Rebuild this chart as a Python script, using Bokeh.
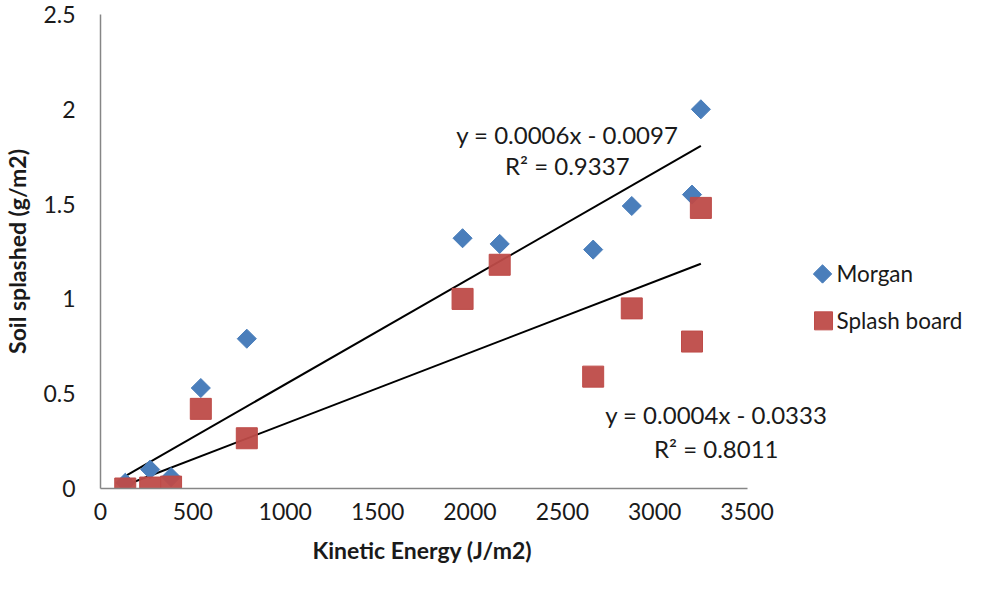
from bokeh.plotting import figure
from bokeh.models import Range1d, Label, Title, ColumnDataSource
from bokeh.embed import file_html
from bokeh.resources import INLINE
import math

# ---- data ----
kinetic_energy = [134, 269, 382, 543, 792, 1960, 2161, 2667, 2876, 3202, 3250]
morgan = [0.03, 0.10, 0.06, 0.53, 0.79, 1.32, 1.29, 1.26, 1.49, 1.55, 2.00]
splash_board = [0.0, 0.005, 0.01, 0.42, 0.265, 1.00, 1.18, 0.59, 0.95, 0.775, 1.48]

# linear trendlines (slope, intercept) as shown on chart
morgan_fit = (0.000559, -0.0097)
splash_fit = (0.000375, -0.0333)
morgan_eq = ["y = 0.0006x - 0.0097", "R\u00b2 = 0.9337"]
splash_eq = ["y = 0.0004x - 0.0333", "R\u00b2 = 0.8011"]
series_names = ["Morgan", "Splash board"]

x_ticks = [0, 500, 1000, 1500, 2000, 2500, 3000, 3500]
y_ticks = [0, 0.5, 1, 1.5, 2, 2.5]
y_tick_labels = ["0", "0.5", "1", "1.5", "2", "2.5"]

FONT = "Lato"
TXT = "#1a1a1a"
BLUE = "#4A7EBB"
RED = "#BE4B48"

# ---- layout (figure pixels) ----
W, H = 972, 574
LEFT, TOP, BOTTOM = 94, 14, 85
AXIS_PX = 651                      # pixel length of x axis 0..3500
FRAME_H = H - TOP - BOTTOM
X_MAX, Y_MAX = 3500, 2.5
x_end = X_MAX * (W - LEFT) / AXIS_PX   # frame runs to the right edge; axis drawn to 3500 only

def dx(px):   # page pixel -> data x
    return (px - 8 - LEFT) * X_MAX / AXIS_PX

def dy(py):   # page pixel -> data y
    return (H - BOTTOM + 8 - py) * Y_MAX / FRAME_H

p = figure(width=W, height=H, output_backend="svg", toolbar_location=None,
           x_range=Range1d(0, x_end), y_range=Range1d(0, Y_MAX),
           min_border_left=LEFT, min_border_right=0, min_border_top=TOP,
           min_border_bottom=BOTTOM)
p.xgrid.visible = False
p.ygrid.visible = False
p.outline_line_color = None
p.background_fill_color = "white"
p.border_fill_color = "white"

for ax in (p.xaxis[0], p.yaxis[0]):
    ax.axis_line_color = "#868686"
    ax.axis_line_width = 1.5
    ax.major_tick_line_color = None
    ax.minor_tick_line_color = None
    ax.major_tick_in = 0
    ax.major_tick_out = 0
    ax.major_label_text_font = FONT
    ax.major_label_text_font_size = "23px"
    ax.major_label_text_color = TXT

p.xaxis.bounds = (0, X_MAX)
p.xaxis.ticker = x_ticks
p.yaxis.ticker = y_ticks
p.yaxis.major_label_overrides = {t: l for t, l in zip(y_ticks, y_tick_labels)}
p.xaxis.major_label_standoff = 14
p.yaxis.major_label_standoff = 25

p.yaxis.axis_label = "Soil splashed (g/m2)"
p.yaxis.axis_label_text_font = FONT
p.yaxis.axis_label_text_font_style = "bold"
p.yaxis.axis_label_text_font_size = "23px"
p.yaxis.axis_label_text_color = TXT
p.yaxis.axis_label_standoff = 9

# x axis title centred under the 0..3500 axis (frame is wider than the axis)
p.add_layout(Title(text="Kinetic Energy (J/m2)", align="left", offset=212, standoff=22,
                   text_font=FONT, text_font_style="bold", text_font_size="23px",
                   text_color=TXT), "below")

# trendlines
xs = [min(kinetic_energy), max(kinetic_energy)]
p.line(xs, [morgan_fit[0] * x + morgan_fit[1] for x in xs], line_color="black", line_width=2)
p.line(xs, [splash_fit[0] * x + splash_fit[1] for x in xs], line_color="black", line_width=2)

src = ColumnDataSource(dict(x=kinetic_energy, m=morgan, s=splash_board))
p.scatter("x", "m", source=src, marker="square", size=13.5, angle=math.pi / 4,
          fill_color=BLUE, line_color=BLUE)
p.scatter("x", "s", source=src, marker="square", size=21,
          fill_color=RED, line_color=RED, fill_alpha=0.95)

# legend (drawn in the area right of the axis)
p.scatter([dx(829)], [dy(282)], marker="square", size=13, angle=math.pi / 4,
          fill_color=BLUE, line_color=BLUE)
p.scatter([dx(830)], [dy(329)], marker="square", size=18,
          fill_color=RED, line_color=RED, fill_alpha=0.95)
for name, py in zip(series_names, [282, 329]):
    p.add_layout(Label(x=dx(843), y=dy(py), text=name, text_align="left",
                       text_baseline="middle", text_font=FONT, text_font_size="22.5px",
                       text_color=TXT))

def eq_labels(lines, x, ys):
    for t, y in zip(lines, ys):
        p.add_layout(Label(x=x, y=y, text=t, text_align="center", text_baseline="middle",
                           text_font=FONT, text_font_size="24px", text_color=TXT))

eq_labels(morgan_eq, dx(572), [dy(142), dy(173)])
eq_labels(splash_eq, dx(722), [dy(423), dy(457)])

open("out.html", "w").write(file_html(p, INLINE))
